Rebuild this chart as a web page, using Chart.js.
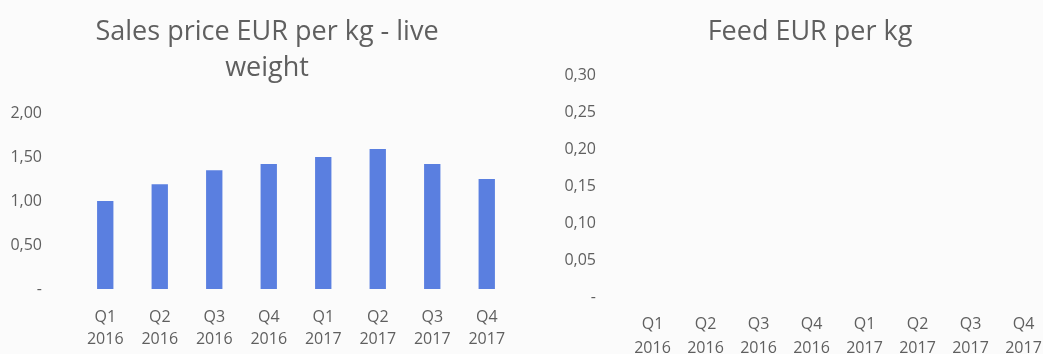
<!DOCTYPE html>
<html>
<head>
<meta charset="utf-8">
<script src="https://cdn.jsdelivr.net/npm/chart.js@4"></script>
<style>
  html, body { margin: 0; padding: 0; background: #fbfbfb; overflow: hidden; width: 1043px; height: 354px; }
  .box { position: absolute; top: 0; height: 354px; }
  #left { left: 0; width: 530px; }
  #right { left: 540px; width: 540px; }
</style>
</head>
<body>
<div class="box" id="left"><canvas id="sales-chart"></canvas></div>
<div class="box" id="right"><canvas id="feed-chart"></canvas></div>
<script>
const quarters = [
  ['Q1', '2016'], ['Q2', '2016'], ['Q3', '2016'], ['Q4', '2016'],
  ['Q1', '2017'], ['Q2', '2017'], ['Q3', '2017'], ['Q4', '2017'],
];
const salesPrice = [1.00, 1.19, 1.35, 1.42, 1.50, 1.59, 1.42, 1.25];
const feedPrice = [null, null, null, null, null, null, null, null];
const salesTicks = [0, 0.5, 1.0, 1.5, 2.0];
const feedTicks = [0, 0.05, 0.10, 0.15, 0.20, 0.25, 0.30];

const grey = '#5f5f5f';
const family = "'Open Sans'";
const fmt = v => v === 0 ? '-' : v.toFixed(2).replace('.', ',');

// y labels sit in the left layout padding; widen the label clip area to the canvas edge
const unclipY = { id: 'unclipY', afterLayout: c => { c.scales.y.left = 0; } };

function makeChart(id, data, ticks, opts) {
  return new Chart(document.getElementById(id), {
    type: 'bar',
    data: {
      labels: quarters,
      datasets: [{ data, backgroundColor: '#5a7fe0', borderWidth: 0, categoryPercentage: 1, barPercentage: 0.3 }],
    },
    plugins: [unclipY],
    options: {
      responsive: true, maintainAspectRatio: false, animation: false,
      layout: { padding: { left: opts.padLeft, right: opts.padRight, bottom: 0 } },
      plugins: {
        legend: { display: false },
        tooltip: { enabled: false },
        title: {
          display: true, text: opts.title, color: grey,
          font: { family, size: 27, weight: 'normal', lineHeight: 36 / 27 },
          padding: { top: 14, bottom: opts.titleBottom },
        },
      },
      scales: {
        x: {
          grid: { display: false, drawTicks: false }, border: { display: false },
          ticks: { color: grey, font: { family, size: 16, lineHeight: opts.lineH / 16 }, padding: opts.xPad, maxRotation: 0, autoSkip: false },
          afterFit: s => { s.height = opts.xHeight; },
        },
        y: {
          min: ticks[0], max: ticks[ticks.length - 1],
          afterBuildTicks: s => { s.ticks = ticks.map(v => ({ value: v })); },
          grid: { display: false, drawTicks: false }, border: { display: false },
          ticks: { color: grey, font: { family, size: 16 }, padding: opts.yPad, callback: fmt },
          afterFit: s => { s.width = opts.yWidth; },
        },
      },
    },
  });
}

makeChart('sales-chart', salesPrice, salesTicks, {
  title: ['Sales price EUR per kg - live', 'weight'], titleBottom: 27,
  padLeft: 20, padRight: 16, xPad: 17, lineH: 22, xHeight: 65, yPad: 36, yWidth: 58,
});
makeChart('feed-chart', feedPrice, feedTicks, {
  title: 'Feed EUR per kg', titleBottom: 25,
  padLeft: 30, padRight: 30, xPad: 15, lineH: 24, xHeight: 57, yPad: 30, yWidth: 56,
});
</script>
</body>
</html>
